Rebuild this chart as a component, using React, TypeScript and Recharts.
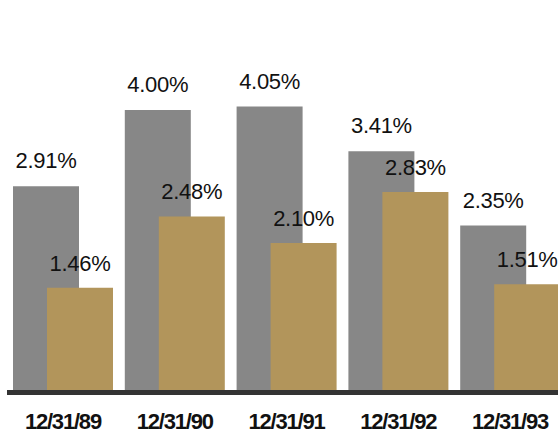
import React from "react";
import { BarChart, Bar, XAxis, YAxis, LabelList } from "recharts";

const dates = ["12/31/89", "12/31/90", "12/31/91", "12/31/92", "12/31/93"];
const grayValues = [2.91, 4.0, 4.05, 3.41, 2.35];
const goldValues = [1.46, 2.48, 2.1, 2.83, 1.51];

const data = dates.map((d, i) => ({ date: d, gray: grayValues[i], gold: goldValues[i] }));

const pct = (v: number) => `${v.toFixed(2)}%`;

const DateTick = (props: any) => {
  const { x, y, payload } = props;
  return (
    <text
      x={x}
      y={y + 37}
      textAnchor="middle"
      fill="#111"
      fontSize={22}
      fontWeight="bold"
      letterSpacing={-1.2}
      fontFamily="'Liberation Sans', Arial, sans-serif"
    >
      {payload.value}
    </text>
  );
};

export default function App() {
  return (
    <div style={{ position: "absolute", left: 0, top: 0, width: 558, height: 434, overflow: "hidden", background: "#fff" }}>
      <BarChart
        width={580}
        height={444}
        data={data}
        margin={{ top: 40, right: 14, bottom: 10, left: 7 }}
        barGap={-32}
        barSize={66}
      >
        <XAxis
          dataKey="date"
          height={44}
          tickLine={false}
          tickSize={0}
          axisLine={{ stroke: "#333", strokeWidth: 5, transform: "translate(0,2.5)" }}
          tick={<DateTick />}
          interval={0}
        />
        <YAxis hide domain={[0, 5]} />
        <Bar dataKey="gray" fill="#878787" isAnimationActive={false}>
          <LabelList
            dataKey="gray"
            position="top"
            offset={18}
            formatter={pct}
            fill="#111"
            fontSize={22}
            letterSpacing={-0.3}
            fontFamily="'Liberation Sans', Arial, sans-serif"
          />
        </Bar>
        <Bar dataKey="gold" fill="#b2955b" isAnimationActive={false}>
          <LabelList
            dataKey="gold"
            position="top"
            offset={17}
            formatter={pct}
            fill="#111"
            fontSize={22}
            letterSpacing={-0.3}
            fontFamily="'Liberation Sans', Arial, sans-serif"
          />
        </Bar>
      </BarChart>
    </div>
  );
}
